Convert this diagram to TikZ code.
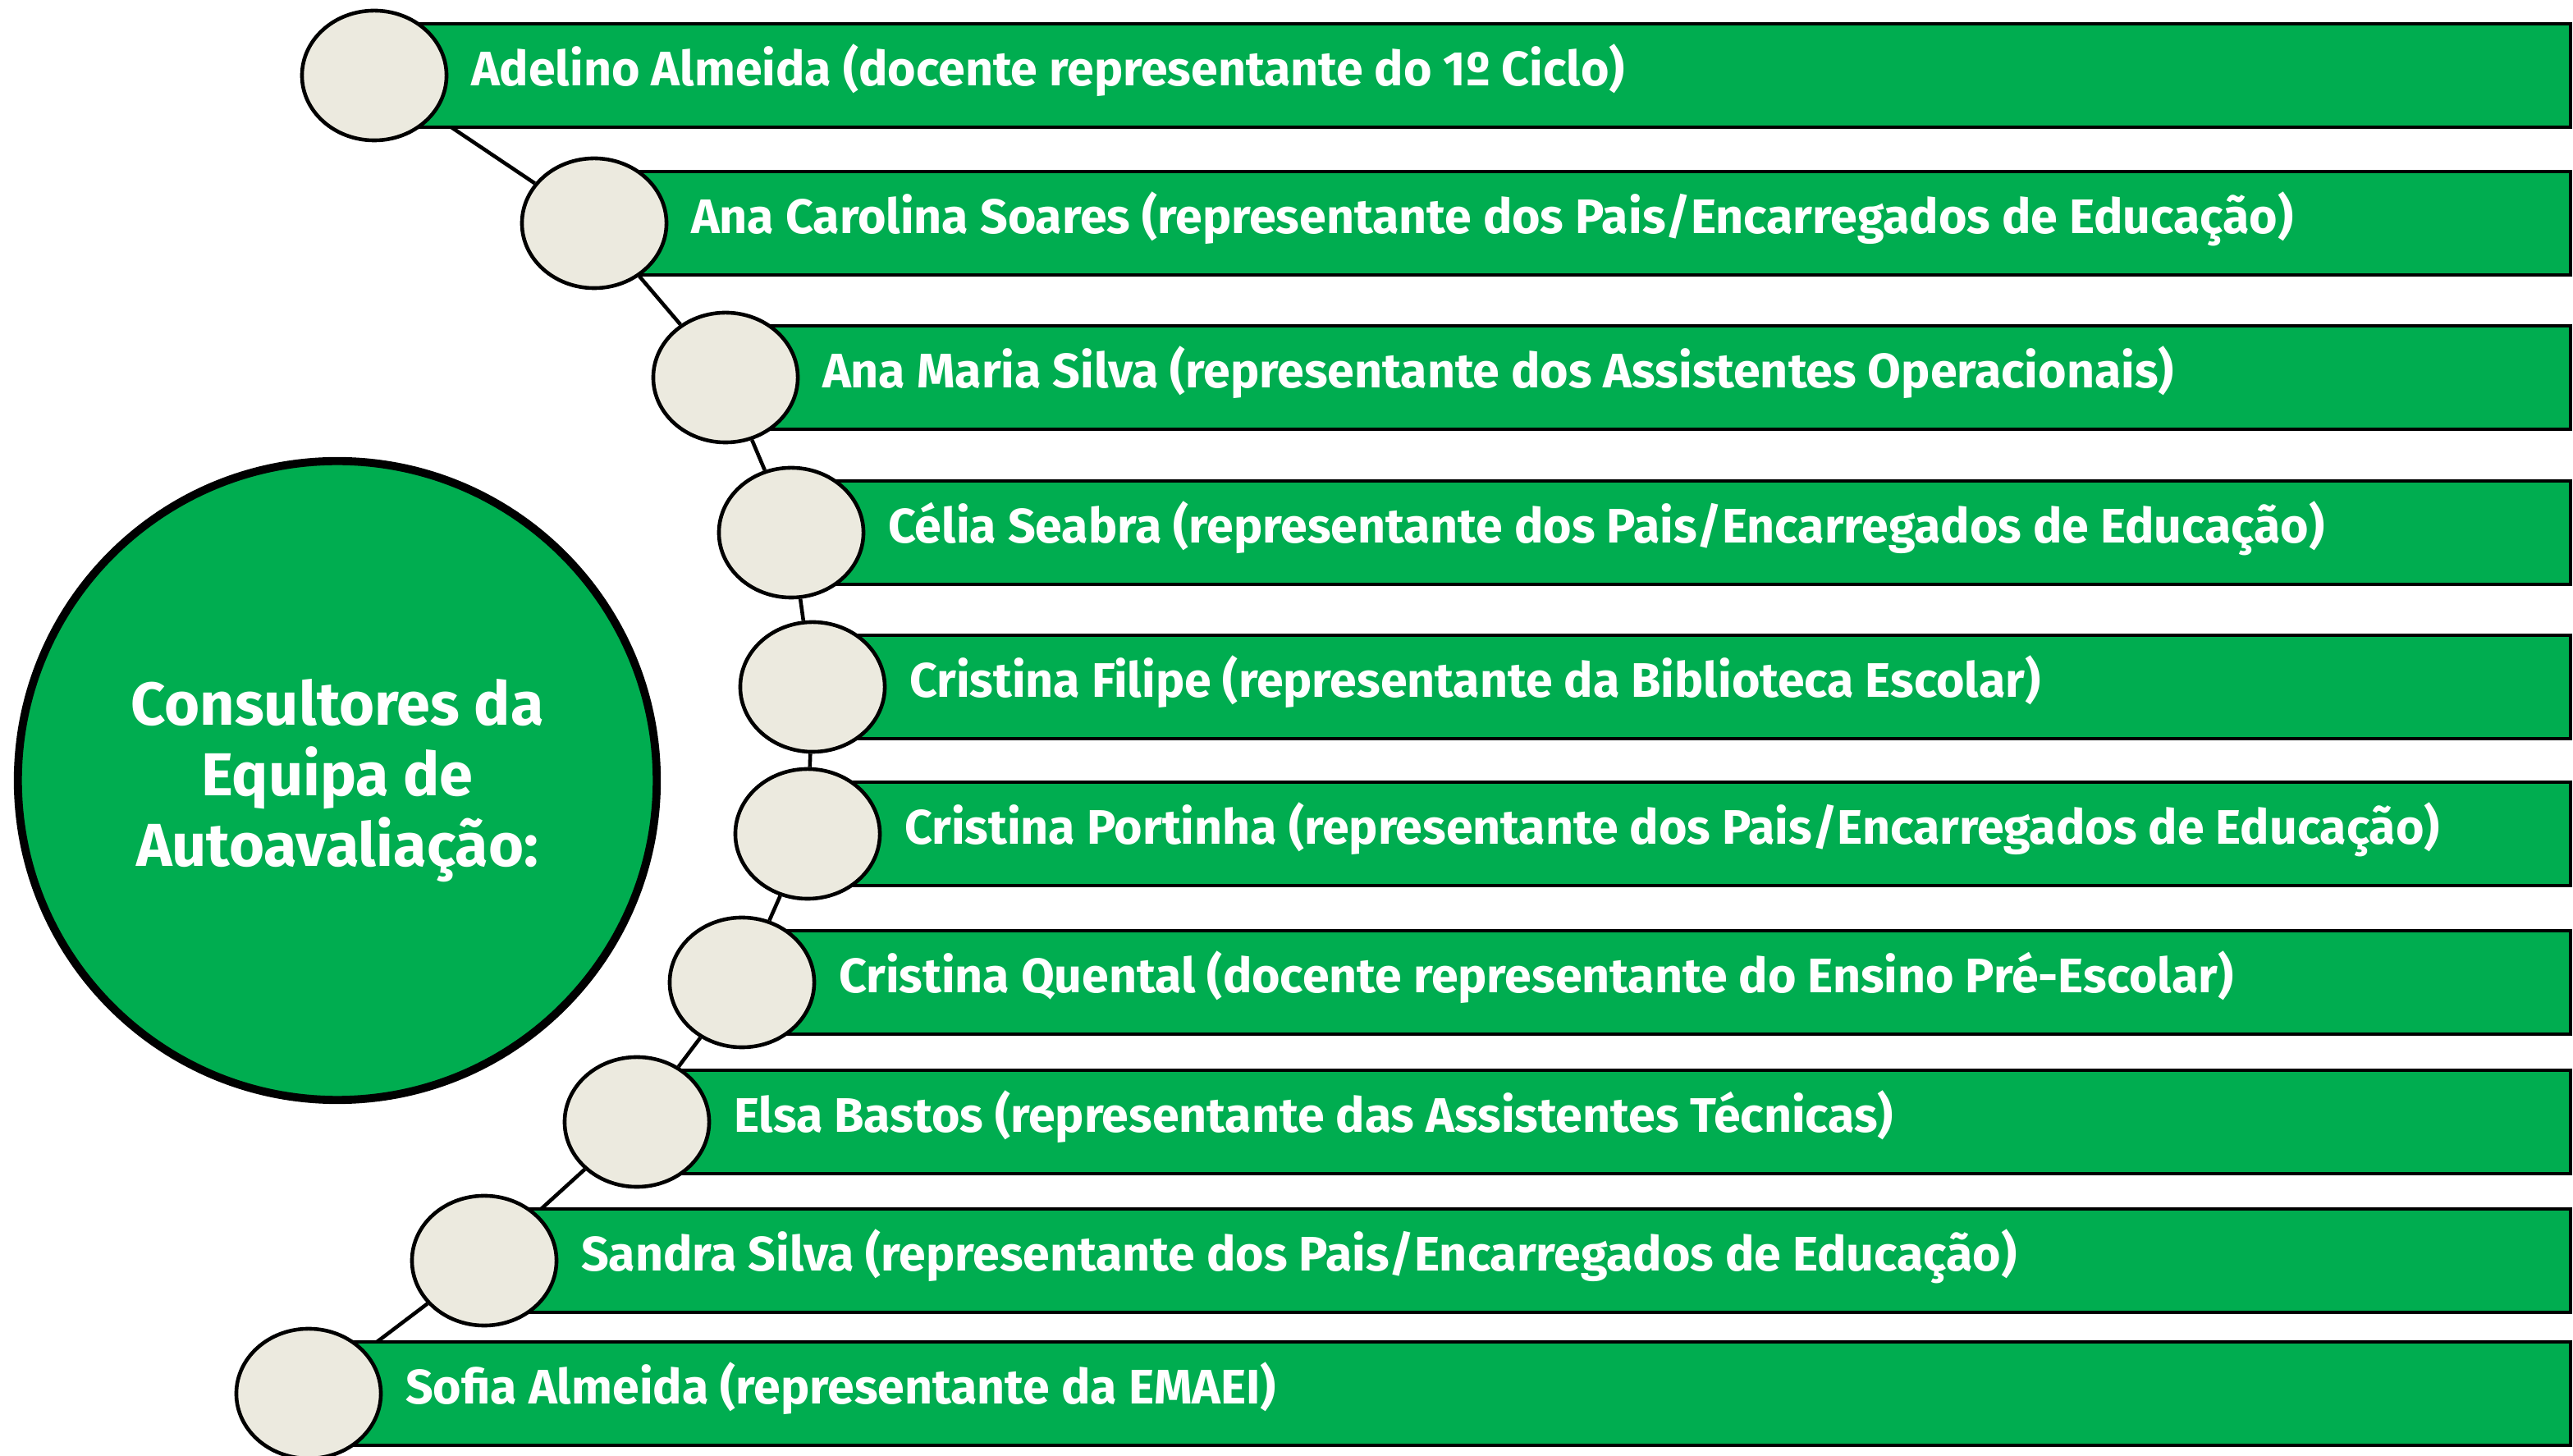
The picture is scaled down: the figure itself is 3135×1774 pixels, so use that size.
\documentclass[tikz,border=0pt]{standalone}
\usepackage{fontspec}
\setmainfont{Fira Sans}
\usepackage{xcolor}
\usetikzlibrary{shapes.geometric,positioning,calc}
\definecolor{teamgreen}{RGB}{0,173,80}
\definecolor{beadfill}{RGB}{236,234,223}
\pgfdeclarelayer{bg}
\pgfsetlayers{bg,main}
\tikzset{
    bead/.style={ellipse, draw=black, line width=1.3pt, fill=beadfill,
        minimum width=1.76cm, minimum height=1.58cm, inner sep=0pt},
    barbox/.style={draw=black, line width=1.4pt, fill=teamgreen},
    bartext/.style={text=white, anchor=base west, inner sep=0pt,
        font=\bfseries\fontsize{16.8}{20}\selectfont},
    link/.style={draw=black, line width=1.3pt},
    hub/.style={circle, draw=black, line width=2.8pt, fill=teamgreen,
        minimum size=7.78cm, text=white, align=center,
        font=\bfseries\fontsize{21}{24.5}\selectfont}
}

\begin{document}
\begin{tikzpicture}[x=0.01cm, y=-0.01cm]
    \useasboundingbox (0,0) rectangle (3135,1774);

    % central circle
    \node[hub] (team) at (411,951) {Consultores da\\Equipa de\\Autoavaliação:};

    % members: bar, bead and name
    \foreach \i/\cx/\cy/\txt in {
        1/456/92/{Adelino Almeida (docente representante do 1º Ciclo)},
        2/724/272/{Ana Carolina Soares (representante dos Pais/Encarregados de Educação)},
        3/884/460/{Ana Maria Silva (representante dos Assistentes Operacionais)},
        4/964/649/{Célia Seabra (representante dos Pais/Encarregados de Educação)},
        5/990/837/{Cristina Filipe (representante da Biblioteca Escolar)},
        6/984/1016/{Cristina Portinha (representante dos Pais/Encarregados de Educação)},
        7/904/1197/{Cristina Quental (docente representante do Ensino Pré-Escolar)},
        8/776/1367/{Elsa Bastos (representante das Assistentes Técnicas)},
        9/590/1536/{Sandra Silva (representante dos Pais/Encarregados de Educação)},
        10/376/1698/{Sofia Almeida (representante da EMAEI)}}
    {
        \draw[barbox] (\cx,\cy-63) rectangle (3132,\cy+63);
        \node[bead] (b\i) at (\cx,\cy) {};
        \node[bartext] (t\i) at ([shift={(27,13)}]b\i.east) {\txt};
    }

    % chain between the beads
    \begin{pgfonlayer}{bg}
        \foreach \a/\b in {1/2,2/3,3/4,4/5,5/6,6/7,7/8,8/9,9/10}
            \draw[link] (b\a) -- (b\b);
    \end{pgfonlayer}
\end{tikzpicture}
\end{document}
